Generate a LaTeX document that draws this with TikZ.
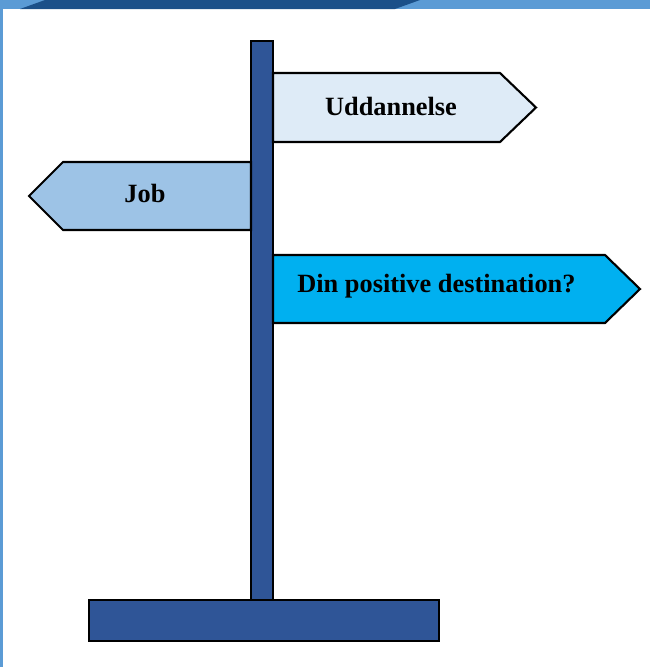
\documentclass[tikz,border=0pt]{standalone}
\usepackage{fontspec}
\setmainfont{Liberation Serif}
\usetikzlibrary{positioning}

\definecolor{postblue}{HTML}{2F5597}
\definecolor{signpale}{HTML}{DEEBF7}
\definecolor{signmid}{HTML}{9DC3E6}
\definecolor{signcyan}{HTML}{00B0F0}
\definecolor{slidedark}{HTML}{1B5089}
\definecolor{slidelight}{HTML}{5B9BD5}

\tikzset{
    board/.style={draw=black, line width=1.2pt, line join=miter},
    pole/.style={draw=black, line width=1.2pt, fill=postblue},
    signtext/.style={font=\bfseries\fontsize{15}{18}\selectfont, inner sep=0pt}
}

\begin{document}
\begin{tikzpicture}[x=0.02cm, y=-0.02cm]
    \useasboundingbox (0,0) rectangle (650,667);
    % baggrund (slide)
    \fill[white] (0,0) rectangle (650,667);
    \fill[slidelight] (0,0) rectangle (650,9);
    \fill[slidedark] (20,9) -- (45,0) -- (420,0) -- (395,9) -- cycle;
    \fill[slidelight] (0,0) rectangle (3,667);
    % stolpe og fod
    \draw[pole] (251,41) rectangle (273,600);
    \draw[pole] (89,600) rectangle (439,641);
    % skilte
    \draw[board, fill=signpale] (273,73) -- (500,73) -- (536,107.5) -- (500,142) -- (273,142) -- cycle;
    \draw[board, fill=signmid] (251,162) -- (63,162) -- (29,196) -- (63,230) -- (251,230) -- cycle;
    \draw[board, fill=signcyan] (273,255) -- (605,255) -- (640,289) -- (605,323) -- (273,323) -- cycle;
    % tekster
    \node[signtext] (udd) at (391,106) {Uddannelse};
    \node[signtext] (job) at (145,193) {Job};
    \node[signtext, anchor=west] (din) at (297,286) {Din positive destination?};
\end{tikzpicture}
\end{document}
